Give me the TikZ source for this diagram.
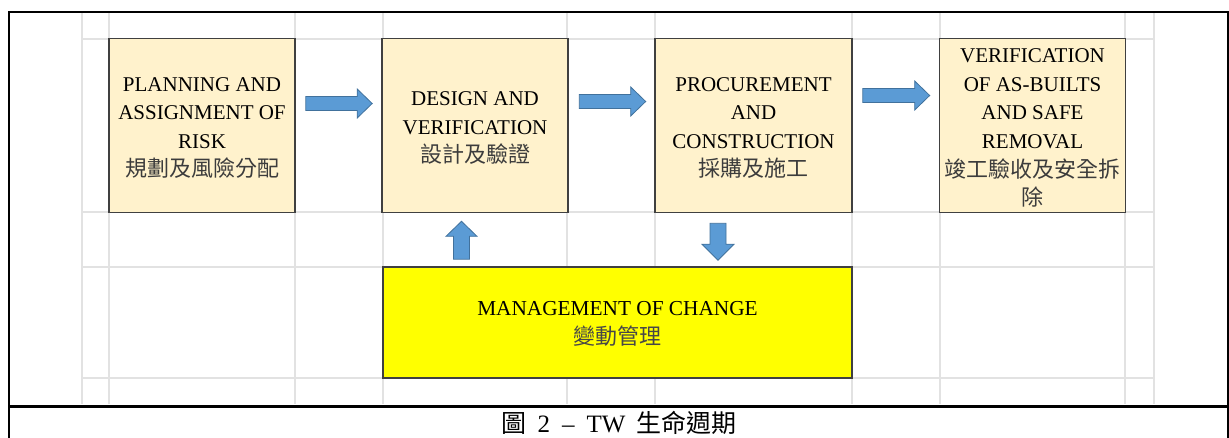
\documentclass[tikz,border=0pt]{standalone}
\usepackage{fontspec}
\setmainfont{Liberation Serif}
\newfontfamily\cjk{Noto Sans CJK TC}
\usetikzlibrary{calc}
\definecolor{boxfill}{HTML}{FFF2CC}
\definecolor{boxline}{HTML}{404040}
\definecolor{gridc}{HTML}{E2E2E2}
\definecolor{arrowfill}{HTML}{5B9BD5}
\definecolor{arrowline}{HTML}{41719C}
\definecolor{cjkgray}{HTML}{3C3C3C}
\definecolor{moc}{HTML}{FFFF00}
\tikzset{
  stagebox/.style={draw=boxline, line width=1.6pt, fill=boxfill, minimum width=186pt, minimum height=174pt, inner sep=0pt, align=center, font=\fontsize{21}{28.6}\selectfont},
  mocbox/.style={draw=boxline, line width=1.6pt, fill=moc, minimum width=469pt, minimum height=111pt, inner sep=0pt, align=center, font=\fontsize{21.3}{29}\selectfont},
  blockarrow/.style={fill=arrowfill, draw=arrowline, line width=0.8pt, line join=miter},
  gridline/.style={draw=gridc, line width=1.5pt},
  framel/.style={draw=black, line width=2.5pt}
}
\newcommand\zhtext[1]{{\cjk\color{cjkgray}\fontsize{22}{28.6}\selectfont #1}}
\newcommand\topstrut{\rule{0pt}{19pt}}
\newcommand\blkright[2]{\filldraw[blockarrow] let \p1=(#1), \p2=(#2) in (\x1,\y1+7pt) -- (\x2-15pt,\y1+7pt) -- (\x2-15pt,\y1+14.5pt) -- (\x2,\y1) -- (\x2-15pt,\y1-14.5pt) -- (\x2-15pt,\y1-7pt) -- (\x1,\y1-7pt) -- cycle;}
\newcommand\blkup[2]{\filldraw[blockarrow] let \p1=(#1), \p2=(#2) in (\x1-8pt,\y1) -- (\x1-8pt,\y2-15pt) -- (\x1-15.5pt,\y2-15pt) -- (\x1,\y2) -- (\x1+15.5pt,\y2-15pt) -- (\x1+8pt,\y2-15pt) -- (\x1+8pt,\y1) -- cycle;}
\newcommand\blkdown[2]{\filldraw[blockarrow] let \p1=(#1), \p2=(#2) in (\x1-8pt,\y1) -- (\x1-8pt,\y2+16pt) -- (\x1-16pt,\y2+16pt) -- (\x1,\y2) -- (\x1+16pt,\y2+16pt) -- (\x1+8pt,\y2+16pt) -- (\x1+8pt,\y1) -- cycle;}
\begin{document}
\begin{tikzpicture}[x=1pt, y=-1pt]
\useasboundingbox (0,0) rectangle (1229,437);
% spreadsheet grid
\foreach \gx in {82,109,295,383,567,655,852,940,1125,1154}
  \draw[gridline] (\gx,12) -- (\gx,404);
\foreach \gy in {39,212,267,378}
  \draw[gridline] (82,\gy) -- (1154,\gy);
% stages
\node[stagebox] (b1) at (202,125.5) {\topstrut PLANNING AND\\ASSIGNMENT OF\\RISK\\\zhtext{規劃及風險分配}};
\node[stagebox] (b2) at (475,125.5) {\topstrut DESIGN AND\\VERIFICATION\\\zhtext{設計及驗證}};
\node[stagebox, minimum width=197pt] (b3) at (753.5,125.5) {\topstrut PROCUREMENT\\AND\\CONSTRUCTION\\\zhtext{採購及施工}};
\node[stagebox] (b4) at (1032.5,125.5) {\topstrut VERIFICATION\\OF AS-BUILTS\\AND SAFE\\REMOVAL\\\zhtext{竣工驗收及安全拆}\\\zhtext{除}};
\node[mocbox] (m) at (617.5,322.5) {\rule{0pt}{16pt}MANAGEMENT OF CHANGE\\{\cjk\color{black!72}\fontsize{22}{29}\selectfont 變動管理}};
% connectors
\coordinate (a1s) at ($(b1.east)+(10,-22)$);
\coordinate (a1e) at ($(b2.west)+(-9,-22)$);
\coordinate (a2s) at ($(b2.east)+(10.5,-24)$);
\coordinate (a2e) at ($(b3.west)+(-8.5,-24)$);
\coordinate (a3s) at ($(b3.east)+(10,-30)$);
\coordinate (a3e) at ($(b4.west)+(-9,-30)$);
\coordinate (ups) at ($(b2.south |- m.north)+(-13.5,-7)$);
\coordinate (upe) at ($(b2.south)+(-13.5,8)$);
\coordinate (dns) at ($(b3.south)+(-35.5,10)$);
\coordinate (dne) at ($(b3.south |- m.north)+(-35.5,-6)$);
\blkright{a1s}{a1e}
\blkright{a2s}{a2e}
\blkright{a3s}{a3e}
\blkup{ups}{upe}
\blkdown{dns}{dne}
% frame and caption
\draw[framel] (9,440) -- (9,12) -- (1228,12) -- (1228,440);
\draw[framel, line width=3pt] (9,406) -- (1228,406);
\node[font=\fontsize{25}{28}\selectfont, inner sep=0pt] (cap) at (619,423) {{\cjk 圖}\hspace{11pt}2\hspace{12pt}–\hspace{12pt}TW\hspace{11pt}{\cjk 生命週期}};
\end{tikzpicture}
\end{document}
